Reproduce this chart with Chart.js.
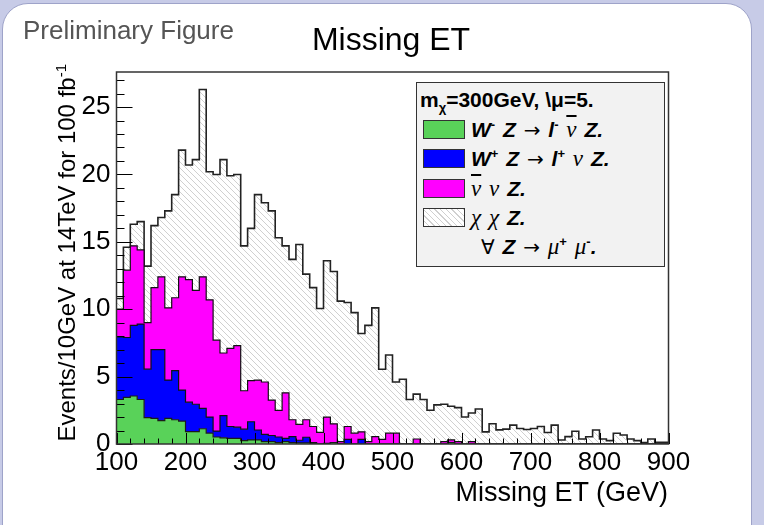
<!DOCTYPE html>
<html>
<head>
<meta charset="utf-8">
<script src="https://cdn.jsdelivr.net/npm/chart.js@4"></script>
<style>
  body { margin: 0; background: #c7cbe7; }
  #wrap { position: relative; width: 764px; height: 525px; overflow: hidden; font-family: 'Liberation Sans', Arial, sans-serif; }
  .card { position: absolute; left: 2px; top: 3px; width: 750px; height: 600px; background: #fff; border-radius: 26px; border: 1px solid #9ea3c9; box-sizing: border-box; }
  canvas { position: absolute; left: 0; top: 0; }
  .prelim { position: absolute; left: 23px; top: 17px; font-size: 26px; line-height: 26px; color: #555; white-space: nowrap; }
  .title { position: absolute; left: 241px; top: 23px; width: 300px; text-align: center; font-size: 32px; line-height: 32px; color: #000; }
  .xtitle { position: absolute; right: 96px; top: 479px; font-size: 27px; line-height: 27px; white-space: nowrap; }
  .ytitle { position: absolute; left: 55px; top: 464px; width: 400px; text-align: right; font-size: 24px; line-height: 24px; white-space: nowrap; transform: rotate(-90deg); transform-origin: 0 0; }
  .ytitle sup { font-size: 15px; vertical-align: 9px; line-height: 0; }
  .leg { position: absolute; left: 416px; top: 82px; width: 249px; height: 185px; box-sizing: border-box; background: #f2f2f2; border: 1.5px solid #333; }
  .hdr { position: absolute; left: 3px; top: 7px; font-weight: bold; font-size: 21px; line-height: 20px; white-space: nowrap; }
  .hdr sub { font-size: 13px; vertical-align: -5px; line-height: 0; }
  .sw { position: absolute; left: 6px; width: 42px; height: 19px; box-sizing: border-box; border: 1px solid #333; }
  .row { position: absolute; left: 54px; height: 19px; line-height: 19px; white-space: nowrap; font-size: 21px; word-spacing: 2px; }
  .b { font-weight: bold; font-style: italic; }
  .gk { font-family: 'Liberation Serif', 'DejaVu Serif', serif; font-style: italic; font-size: 23px; }
  .sy { font-family: 'DejaVu Sans', 'Liberation Serif', serif; font-size: 20px; }
  .row sup { font-size: 13px; vertical-align: 8px; line-height: 0; font-weight: bold; }
  .ov { text-decoration: overline; }
</style>
</head>
<body>
<div id="wrap">
  <div class="card"></div>
  <canvas id="stackChart" width="764" height="525"></canvas>
  <div class="prelim">Preliminary Figure</div>
  <div class="title">Missing ET</div>
  <div class="ytitle">Events/10GeV at 14TeV for 100 fb<sup>-1</sup></div>
  <div class="xtitle">Missing ET (GeV)</div>
  <div class="leg">
    <div class="hdr">m<sub>χ</sub>=300GeV, \μ=5.</div>
    <div class="sw" style="top:37px;background:#59d259"></div>
    <div class="row" style="top:37px"><span class="b">W</span><sup>-</sup> <span class="b">Z</span> <span class="sy">→</span> <span class="b">l</span><sup>-</sup> <span class="gk ov">ν</span> <span class="b">Z.</span></div>
    <div class="sw" style="top:66px;background:#0000ff"></div>
    <div class="row" style="top:66px"><span class="b">W</span><sup>+</sup> <span class="b">Z</span> <span class="sy">→</span> <span class="b">l</span><sup>+</sup> <span class="gk">ν</span> <span class="b">Z.</span></div>
    <div class="sw" style="top:96px;background:#ff00ff"></div>
    <div class="row" style="top:96px"><span class="gk ov">ν</span> <span class="gk">ν</span> <span class="b">Z.</span></div>
    <div class="sw" style="top:125px;background:repeating-linear-gradient(45deg,#fff 0px,#fff 3px,#d0d0d0 3px,#d0d0d0 4px)"></div>
    <div class="row" style="top:125px"><span class="gk">χ</span> <span class="gk">χ</span> <span class="b">Z.</span></div>
    <div class="row" style="top:154px;left:64px"><span class="sy">∀</span> <span class="b">Z</span> <span class="sy">→</span> <span class="gk">μ</span><sup>+</sup> <span class="gk">μ</span><sup>-</sup><span class="b">.</span></div>
  </div>
</div>
<script>
// histogram binning (GeV)
const xMin = 100;
const xMax = 900;
const binWidth = 10;
const yMax = 27.6;
const binEdges = Array.from({ length: (xMax - xMin) / binWidth + 1 }, (_, i) => xMin + i * binWidth);

// events per bin (stack order: bottom to top)
const wMinusZ = [3.30, 3.46, 3.56, 3.30, 1.95, 1.90, 1.73, 1.90, 1.80, 1.70,
                 0.92, 0.92, 1.13, 0.80, 0.52, 0.46, 0.42, 0.42, 0.25, 0.30,
                 0.30, 0.17, 0.17, 0.10, 0.17, 0.10, 0.08, 0.08, 0.05, 0,
                 0, 0.10, 0, 0, 0, 0, 0, 0, 0, 0,
                 0, 0, 0, 0, 0, 0, 0, 0, 0.10, 0,
                 0, 0, 0, 0, 0, 0, 0, 0, 0, 0,
                 0, 0, 0, 0, 0, 0, 0, 0, 0, 0,
                 0, 0, 0, 0, 0, 0, 0, 0, 0, 0];
const wPlusZ = [4.65, 4.44, 5.24, 5.60, 3.60, 5.10, 5.27, 2.84, 3.65, 2.30,
                2.18, 2.03, 1.51, 1.20, 0.44, 1.64, 0.88, 0.83, 0.85, 1.35,
                0.74, 0.55, 0.46, 0.42, 0.25, 0.44, 0.20, 0.42, 0.05, 0,
                0.05, 0, 0, 0.35, 0, 0.35, 0, 0, 0, 0,
                0, 0, 0, 0, 0, 0, 0, 0, 0, 0,
                0, 0, 0, 0, 0, 0, 0, 0, 0, 0,
                0, 0, 0, 0, 0, 0, 0, 0, 0, 0,
                0, 0, 0, 0, 0, 0, 0, 0, 0, 0];
const nuNuZ = [2.05, 5.00, 5.90, 5.50, 3.45, 4.60, 5.40, 5.36, 5.40, 8.40,
               9.10, 8.45, 9.76, 8.70, 6.74, 4.65, 5.80, 6.05, 2.85, 3.05,
               3.70, 3.88, 2.63, 1.98, 3.38, 1.26, 1.17, 1.30, 1.20, 0.86,
               1.95, 1.40, 0.17, 0.95, 0.80, 0.55, 0.17, 0.54, 0.35, 0.80,
               0.80, 0, 0, 0.37, 0, 0, 0, 0.17, 0.20, 0.17,
               0, 0.17, 0, 0, 0, 0, 0, 0, 0, 0,
               0, 0, 0, 0, 0, 0, 0, 0, 0, 0,
               0, 0, 0, 0, 0, 0, 0, 0, 0, 0];
const chiChiZ = [0.80, 1.70, 1.60, 2.10, 4.20, 4.60, 4.40, 7.20, 7.65, 9.40,
                 8.50, 9.70, 13.90, 9.50, 12.30, 14.35, 12.80, 12.70, 10.75, 11.30,
                 13.76, 13.30, 14.04, 12.80, 10.90, 11.90, 13.35, 10.80, 10.30, 9.19,
                 11.60, 11.30, 10.43, 9.20, 8.95, 7.30, 8.63, 9.56, 5.20, 5.80,
                 3.80, 4.80, 3.30, 3.33, 3.30, 2.50, 2.90, 2.78, 2.50, 2.53,
                 2.00, 2.13, 2.60, 0.90, 1.50, 1.05, 1.10, 1.40, 1.15, 1.08,
                 1.15, 1.30, 0.85, 1.40, 0.30, 0.55, 0.95, 0.37, 0.54, 1.04,
                 0.37, 0.25, 0.80, 0.67, 0.37, 0.25, 0.10, 0.37, 0.12, 0.12];

// bin contents -> step points at bin edges (last bin repeated at upper edge)
function toSteps(values) {
    return binEdges.map((x, i) => ({ x: x, y: values[Math.min(i, values.length - 1)] }));
}

// light diagonal hatch like ROOT fill style 3004
function makeHatch() {
    const n = 6;
    const c = document.createElement('canvas');
    c.width = n; c.height = n;
    const g = c.getContext('2d');
    g.fillStyle = '#fff';
    g.fillRect(0, 0, n, n);
    g.strokeStyle = '#d0d0d0';
    g.lineWidth = 1;
    g.beginPath();
    g.moveTo(-1, -1); g.lineTo(n + 1, n + 1);
    g.moveTo(-1, n - 1); g.lineTo(1, n + 1);
    g.moveTo(n - 1, -1); g.lineTo(n + 1, 1);
    g.stroke();
    return g.createPattern(c, 'repeat');
}

// ROOT-like frame with inward ticks
const rootAxes = {
    id: 'rootAxes',
    afterDatasetsDraw(chart) {
        const { ctx, chartArea: a, scales: { x, y } } = chart;
        ctx.save();
        ctx.strokeStyle = '#000';
        ctx.lineWidth = 1;
        ctx.beginPath();
        for (let v = 0; v <= yMax; v += 1) {
            const py = Math.round(y.getPixelForValue(v)) + 0.5;
            const len = v % 5 === 0 ? 16 : 8;
            ctx.moveTo(a.left, py);
            ctx.lineTo(a.left + len, py);
        }
        for (let v = xMin; v <= xMax; v += 20) {
            const px = Math.round(x.getPixelForValue(v)) + 0.5;
            const len = v % 100 === 0 ? 11 : 5.5;
            ctx.moveTo(px, a.bottom);
            ctx.lineTo(px, a.bottom - len);
        }
        ctx.stroke();
        ctx.strokeStyle = '#333';
        ctx.lineWidth = 1.5;
        ctx.strokeRect(a.left, a.top, a.right - a.left, a.bottom - a.top);
        ctx.restore();
    }
};

document.addEventListener('DOMContentLoaded', () => {
    const ctx = document.getElementById('stackChart').getContext('2d');
    const tickFont = { family: "'Liberation Sans', Arial, sans-serif", size: 26 };

    new Chart(ctx, {
        type: 'line',
        data: {
            datasets: [
                { label: 'W- Z', data: toSteps(wMinusZ), backgroundColor: '#59d259', borderColor: '#1b1b1b', borderWidth: 1.2, fill: 'origin' },
                { label: 'W+ Z', data: toSteps(wPlusZ), backgroundColor: '#0000ff', borderColor: '#111', borderWidth: 1.2, fill: '-1' },
                { label: 'nubar nu Z', data: toSteps(nuNuZ), backgroundColor: '#ff00ff', borderColor: '#111', borderWidth: 1.2, fill: '-1' },
                { label: 'chi chi Z', data: toSteps(chiChiZ), backgroundColor: makeHatch(), borderColor: '#222', borderWidth: 1.6, fill: '-1' }
            ]
        },
        options: {
            responsive: false,
            animation: false,
            elements: { point: { radius: 0, hoverRadius: 0 }, line: { stepped: 'before', tension: 0 } },
            layout: { padding: { top: 72, right: 95.5, left: 0, bottom: 0 } },
            scales: {
                x: {
                    type: 'linear',
                    min: xMin,
                    max: xMax,
                    grid: { display: false, drawTicks: false },
                    border: { display: false },
                    ticks: { stepSize: 100, color: '#000', font: tickFont, padding: 3, maxRotation: 0, autoSkip: false, includeBounds: false },
                    afterFit: (s) => { s.height = 81; }
                },
                y: {
                    stacked: true,
                    min: 0,
                    max: yMax,
                    grid: { display: false, drawTicks: false },
                    border: { display: false },
                    ticks: { stepSize: 5, color: '#000', font: tickFont, padding: 6, includeBounds: false },
                    afterFit: (s) => { s.width = 116.5; }
                }
            },
            plugins: {
                legend: { display: false },
                tooltip: { enabled: false },
                filler: { propagate: false }
            }
        },
        plugins: [rootAxes]
    });
});
</script>
</body>
</html>
